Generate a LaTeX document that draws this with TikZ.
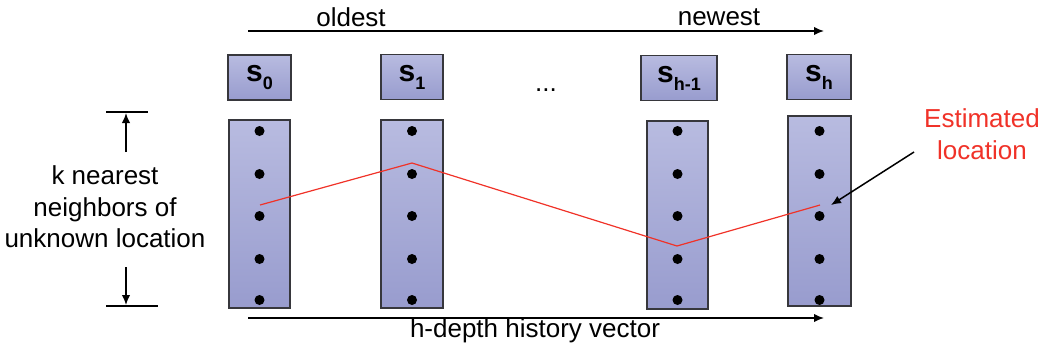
\documentclass[tikz,border=0pt]{standalone}
\usepackage{fontspec}
\setmainfont{Liberation Sans}
\usetikzlibrary{arrows.meta,positioning}
\definecolor{boxtop}{RGB}{184,187,224}
\definecolor{boxbot}{RGB}{152,156,206}
\definecolor{boxline}{RGB}{55,55,60}
\definecolor{estred}{RGB}{240,50,40}
\newcommand{\stlab}[1]{\textbf{s}\raisebox{-4pt}{\fontsize{9}{9}\selectfont\bfseries #1}}

\begin{document}
\begin{tikzpicture}[x=0.5pt,y=-0.5pt,
  statebox/.style={draw=boxline,line width=0.8pt,top color=boxtop,bottom color=boxbot,inner sep=0pt,minimum height=22.5pt,font=\fontsize{15}{17}\selectfont},
  histcol/.style={draw=boxline,line width=0.8pt,top color=boxtop,bottom color=boxbot,inner sep=0pt,minimum height=94pt},
  nbdot/.style={circle,fill=black,inner sep=0pt,minimum size=5pt},
  txt/.style={font=\fontsize{13}{15.75}\selectfont,align=center,inner sep=0pt},
  arr/.style={-{Latex[length=5pt,width=4.2pt]},line width=0.75pt}]
\useasboundingbox (0,0) rectangle (1047,350);

% time axis on top
\coordinate (oldL) at (248,31);
\coordinate (newR) at (824,31);
\draw[arr] (oldL) -- (newR);
\node[txt] (oldest) at (351,17) {oldest};
\node[txt] (newest) at (719,17) {newest};

% state labels
\node[statebox,minimum width=31.5pt] (b0) at (259.5,77.5) {\stlab{0}};
\node[statebox,minimum width=31pt] (b1) at (412,77) {\stlab{1}};
\node[statebox,minimum width=38pt] (b2) at (679,78) {\stlab{h-1}};
\node[statebox,minimum width=32pt] (b3) at (819,77) {\stlab{h}};
\node[txt] (gap) at (546,90) {...};

% neighbour columns
\node[histcol,minimum width=30.5pt] (c0) at (259.5,214) {};
\node[histcol,minimum width=31pt] (c1) at (412,214) {};
\node[histcol,minimum width=30.5pt] (c2) at (677.5,215) {};
\node[histcol,minimum width=31.5pt,minimum height=95pt] (c3) at (819.5,211) {};

% estimated path
\coordinate (e0) at (260,205);
\coordinate (e1) at (412,163);
\coordinate (e2) at (677,246);
\coordinate (e3) at (820,205);
\draw[estred,line width=0.6pt] (e0) -- (e1) -- (e2) -- (e3);

\foreach \x/\c in {259.5/c0,412/c1,677.5/c2,819.5/c3}
  \foreach \y [count=\i] in {131,174,216,259,300}
    \node[nbdot] (\c-d\i) at (\x,\y) {};

% k nearest bracket
\coordinate (kt1) at (106,112); \coordinate (kt2) at (148,112);
\coordinate (kb1) at (106,306); \coordinate (kb2) at (158,306);
\draw[line width=0.75pt] (kt1) -- (kt2);
\draw[line width=0.75pt] (kb1) -- (kb2);
\coordinate (ku) at (126,152); \coordinate (kd) at (126,267);
\draw[arr] (ku) -- (126,113);
\draw[arr] (kd) -- (126,305);
\node[txt] (knn) at (105,207) {k nearest\\neighbors of\\unknown location};

% estimated location
\node[txt,text=estred] (est) at (982,134) {Estimated\\location};
\coordinate (ptr) at (914,152);
\coordinate (tip) at (831,205);
\draw[arr] (ptr) -- (tip);

% history axis
\coordinate (histL) at (248,318);
\coordinate (histR) at (824,318);
\draw[arr] (histL) -- (histR);
\node[txt] (hist) at (535,331) {h-depth history vector};
\end{tikzpicture}
\end{document}
